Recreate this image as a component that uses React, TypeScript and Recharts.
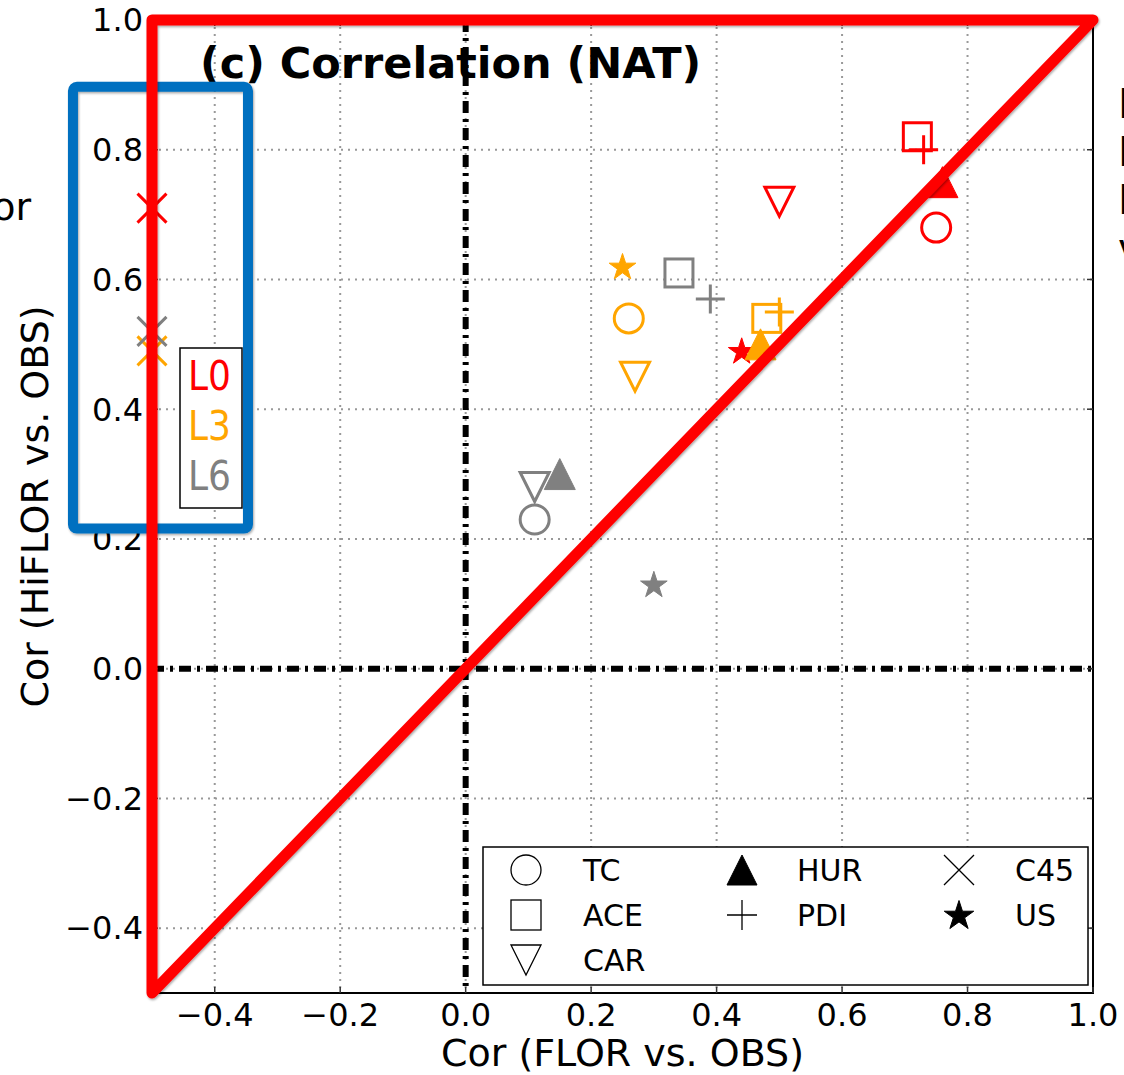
import React from 'react';
import {
  ScatterChart,
  Scatter,
  XAxis,
  YAxis,
  CartesianGrid,
} from 'recharts';

// metric names, same order in every value list
const metrics = ['TC', 'ACE', 'CAR', 'HUR', 'PDI', 'C45', 'US'];

// x: Cor (FLOR vs. OBS), y: Cor (HiFLOR vs. OBS)
const florL0 = [0.75, 0.72, 0.5, 0.76, 0.73, -0.5, 0.44];
const hiflorL0 = [0.68, 0.82, 0.72, 0.75, 0.8, 0.71, 0.49];
const florL3 = [0.26, 0.48, 0.27, 0.47, 0.5, -0.5, 0.25];
const hiflorL3 = [0.54, 0.54, 0.45, 0.5, 0.55, 0.49, 0.62];
const florL6 = [0.11, 0.34, 0.11, 0.15, 0.39, -0.5, 0.3];
const hiflorL6 = [0.23, 0.61, 0.28, 0.3, 0.57, 0.52, 0.13];

const levelNames = ['L0', 'L3', 'L6'];
const levelColors = ['#ff0000', '#ffa500', '#808080'];

const xTicks = [-0.4, -0.2, 0, 0.2, 0.4, 0.6, 0.8, 1.0];
const yTicks = [-0.4, -0.2, 0, 0.2, 0.4, 0.6, 0.8, 1.0];
const X_DOMAIN = [-0.5, 1.0];
const Y_DOMAIN = [-0.5, 1.0];

const legendColumns = [['TC', 'ACE', 'CAR'], ['HUR', 'PDI'], ['C45', 'US']];

const FONT = "'DejaVu Sans', 'Liberation Sans', sans-serif";
const W = 1124;
const H = 1075;
const MARGIN = { top: 20, right: 31, bottom: 32, left: 72 };
const X_AXIS_H = 50;
const Y_AXIS_W = 80;
const PLOT = {
  left: MARGIN.left + Y_AXIS_W,
  top: MARGIN.top,
  right: W - MARGIN.right,
  bottom: H - MARGIN.bottom - X_AXIS_H,
};

const px = (v: number) =>
  PLOT.left + ((v - X_DOMAIN[0]) / (X_DOMAIN[1] - X_DOMAIN[0])) * (PLOT.right - PLOT.left);
const py = (v: number) =>
  PLOT.bottom - ((v - Y_DOMAIN[0]) / (Y_DOMAIN[1] - Y_DOMAIN[0])) * (PLOT.bottom - PLOT.top);

const fmt = (v: number) => (v < 0 ? '\u2212' + Math.abs(v).toFixed(1) : v.toFixed(1));

const dataSizes: Record<string, number> = {
  TC: 29, ACE: 28, CAR: 29, HUR: 31, PDI: 29, C45: 29, US: 28,
};

const starPoints = (cx: number, cy: number, R: number) => {
  const pts: string[] = [];
  for (let i = 0; i < 10; i++) {
    const a = (-90 + i * 36) * (Math.PI / 180);
    const r = i % 2 ? R * 0.382 : R;
    pts.push(`${cx + r * Math.cos(a)},${cy + r * Math.sin(a)}`);
  }
  return pts.join(' ');
};

function Marker({ cx, cy, kind, color, size, sw }: any) {
  const h = size / 2;
  switch (kind) {
    case 'TC':
      return <circle cx={cx} cy={cy} r={h} fill="none" stroke={color} strokeWidth={sw} />;
    case 'ACE':
      return (
        <rect x={cx - h} y={cy - h} width={size} height={size} fill="none" stroke={color} strokeWidth={sw} />
      );
    case 'CAR':
      return (
        <polygon
          points={`${cx - h},${cy - h} ${cx + h},${cy - h} ${cx},${cy + h}`}
          fill="none"
          stroke={color}
          strokeWidth={sw}
        />
      );
    case 'HUR':
      return (
        <polygon
          points={`${cx - h},${cy + h} ${cx + h},${cy + h} ${cx},${cy - h}`}
          fill={color}
          stroke={color}
          strokeWidth={1}
        />
      );
    case 'PDI':
      return (
        <path d={`M${cx - h},${cy}H${cx + h}M${cx},${cy - h}V${cy + h}`} stroke={color} strokeWidth={sw} fill="none" />
      );
    case 'C45':
      return (
        <path
          d={`M${cx - h},${cy - h}L${cx + h},${cy + h}M${cx - h},${cy + h}L${cx + h},${cy - h}`}
          stroke={color}
          strokeWidth={sw}
          fill="none"
        />
      );
    case 'US':
      return <polygon points={starPoints(cx, cy + 1, h)} fill={color} stroke={color} strokeWidth={1} />;
    default:
      return null;
  }
}

const levelData = [
  [florL0, hiflorL0],
  [florL3, hiflorL3],
  [florL6, hiflorL6],
].map(([xs, ys]) => metrics.map((m, i) => ({ x: xs[i], y: ys[i], m })));

function Overlay() {
  const legendX = [526, 742, 959];
  const labelX = [583, 797, 1015];
  const rowY = [870, 915, 960];
  return (
    <svg
      width={W}
      height={H}
      style={{ position: 'absolute', left: 0, top: 0, pointerEvents: 'none' }}
      fontFamily={FONT}
    >
      <defs>
        <filter id="shadow" x="-5%" y="-5%" width="110%" height="110%">
          <feDropShadow dx="1" dy="1.5" stdDeviation="1.2" floodColor="#000" floodOpacity="0.35" />
        </filter>
      </defs>

      {/* dash-dot zero lines */}
      <g stroke="#000" strokeWidth={6} strokeDasharray="12 6 3 6" fill="none">
        <path d={`M${px(0)},${PLOT.top}V${PLOT.bottom}`} />
        <path d={`M${PLOT.left},${py(0)}H${PLOT.right}`} />
      </g>

      {/* frame and inward ticks */}
      <rect
        x={PLOT.left}
        y={PLOT.top}
        width={PLOT.right - PLOT.left}
        height={PLOT.bottom - PLOT.top}
        fill="none"
        stroke="#000"
        strokeWidth={2}
      />
      {xTicks.map((t) => (
        <g key={`xt${t}`} stroke="#333" strokeWidth={1.5}>
          <line x1={px(t)} x2={px(t)} y1={PLOT.bottom} y2={PLOT.bottom - 6} />
          <line x1={px(t)} x2={px(t)} y1={PLOT.top} y2={PLOT.top + 6} />
        </g>
      ))}
      {yTicks.map((t) => (
        <g key={`yt${t}`} stroke="#333" strokeWidth={1.5}>
          <line x1={PLOT.left} x2={PLOT.left + 6} y1={py(t)} y2={py(t)} />
          <line x1={PLOT.right} x2={PLOT.right - 6} y1={py(t)} y2={py(t)} />
        </g>
      ))}

      <text x={200} y={78} fontSize={43} fontWeight="bold" fill="#000">
        (c) Correlation (NAT)
      </text>
      <text x={(PLOT.left + PLOT.right) / 2} y={1066} fontSize={38} textAnchor="middle" fill="#000">
        Cor (FLOR vs. OBS)
      </text>
      <text
        x={48}
        y={(PLOT.top + PLOT.bottom) / 2}
        fontSize={38}
        textAnchor="middle"
        fill="#000"
        transform={`rotate(-90, 48, ${(PLOT.top + PLOT.bottom) / 2})`}
      >
        Cor (HiFLOR vs. OBS)
      </text>

      {/* level key */}
      <rect x={180} y={348} width={62} height={160} fill="#fff" stroke="#000" strokeWidth={1.5} />
      {levelNames.map((n, i) => (
        <text key={n} x={188} y={390 + i * 50} fontSize={40} textLength={43} lengthAdjust="spacingAndGlyphs" fill={levelColors[i]}>
          {n}
        </text>
      ))}

      {/* marker legend */}
      <rect x={483} y={847} width={605} height={138} fill="#fff" stroke="#000" strokeWidth={1.5} />
      {legendColumns.map((col, ci) =>
        col.map((m, ri) => (
          <g key={m}>
            <Marker cx={legendX[ci]} cy={rowY[ri]} kind={m} color="#000" size={m === 'US' ? 31 : 30} sw={1.3} />
            <text x={labelX[ci]} y={rowY[ri] + 11} fontSize={30} fill="#000">
              {m}
            </text>
          </g>
        ))
      )}

      {/* pieces of neighbouring panels */}
      <text x={31} y={220} fontSize={38} textAnchor="end" fill="#000">
        Cor
      </text>
      {['P', 'P', 'P', 'v'].map((c, i) => (
        <text key={i} x={1118} y={118 + i * 48} fontSize={40} fill="#000">
          {c}
        </text>
      ))}

      {/* highlight annotations */}
      <rect
        x={px(-0.626)}
        y={py(0.897)}
        width={px(-0.347) - px(-0.626)}
        height={py(0.216) - py(0.897)}
        rx={4}
        fill="none"
        stroke="#0070c0"
        strokeWidth={10}
        filter="url(#shadow)"
      />
      <polygon
        points={`${px(-0.5)},${py(1)} ${px(1)},${py(1)} ${px(-0.5)},${py(-0.5)}`}
        fill="none"
        stroke="#ff0000"
        strokeWidth={11}
        strokeLinejoin="round"
        filter="url(#shadow)"
      />
    </svg>
  );
}

export default function App() {
  return (
    <div style={{ position: 'relative', width: W, height: H, overflow: 'hidden', background: '#fff' }}>
      <style>{'body{margin:0}'}</style>
      <ScatterChart width={W} height={H} margin={MARGIN}>
        <CartesianGrid stroke="#999" strokeWidth={2} strokeDasharray="2 5" />
        <XAxis
          type="number"
          dataKey="x"
          domain={X_DOMAIN}
          ticks={xTicks}
          tickFormatter={fmt}
          tick={{ fontSize: 32, fill: '#000', fontFamily: FONT }}
          tickLine={false}
          tickSize={0}
          tickMargin={10}
          axisLine={false}
          height={X_AXIS_H}
          interval={0}
        />
        <YAxis
          type="number"
          dataKey="y"
          domain={Y_DOMAIN}
          ticks={yTicks}
          tickFormatter={fmt}
          tick={{ fontSize: 32, fill: '#000', fontFamily: FONT }}
          tickLine={false}
          tickSize={0}
          tickMargin={9}
          axisLine={false}
          width={Y_AXIS_W}
          interval={0}
        />
        {levelData.map((data, li) => (
          <Scatter
            key={levelNames[li]}
            name={levelNames[li]}
            data={data}
            isAnimationActive={false}
            shape={(p: any) => (
              <Marker
                cx={p.cx}
                cy={p.cy}
                kind={p.payload.m}
                color={levelColors[li]}
                size={dataSizes[p.payload.m]}
                sw={3}
              />
            )}
          />
        ))}
      </ScatterChart>
      <Overlay />
    </div>
  );
}
